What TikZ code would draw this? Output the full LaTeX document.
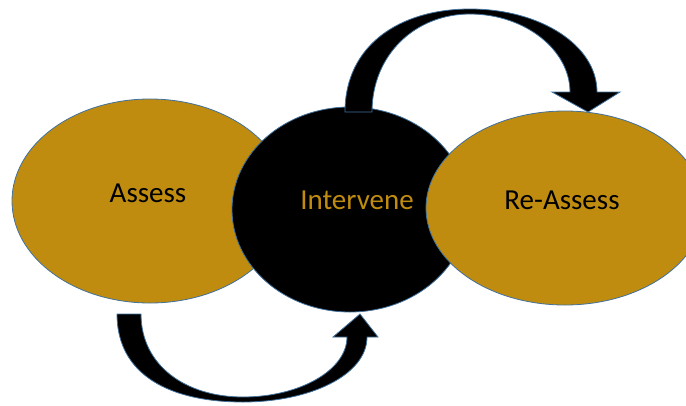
\documentclass[tikz,border=0pt]{standalone}
\usepackage{fontspec}
\setmainfont{Carlito}
\usetikzlibrary{shapes.geometric}
\definecolor{gold}{RGB}{191,140,16}
\definecolor{rim}{RGB}{65,113,156}

\begin{document}
\begin{tikzpicture}[x=1pt,y=-1pt,
                    stage/.style={ellipse,draw=rim,line width=0.8pt,inner sep=0pt},
                    word/.style={font=\fontsize{29}{29}\selectfont},
                    bend arrow/.style={fill=black,draw=rim,line width=0.8pt,line join=miter}]
  \useasboundingbox (0,0) rectangle (686,405);
  \node[stage,fill=gold,minimum width=276pt,minimum height=204pt] (assess) at (150,201) {};
  \node[stage,fill=black,minimum width=236pt,minimum height=205pt] (intervene) at (350,209.5) {};
  \node[stage,fill=gold,minimum width=278pt,minimum height=194pt] (reassess) at (565,208) {};
  \node[word] (assess text) at (148,193) {Assess};
  \node[word,text=gold] (intervene text) at (357,200) {Intervene};
  \node[word] (reassess text) at (562,200) {Re-Assess};
  % curved arrow over the top
  \coordinate (top tail) at (358.5,112);
  \coordinate (top tip) at (588,112);
  \draw[bend arrow] (345,112) .. controls (345,45) and (400,9) .. (470,9)
        .. controls (540,9) and (597,45) .. (597,92) -- (620,92) -- (top tip) -- (552,92) -- (570,92)
        .. controls (570,50) and (525,14) .. (470,14)
        .. controls (415,14) and (372,55) .. (372,112) -- cycle;
  % curved arrow underneath
  \coordinate (low tail) at (129,314);
  \coordinate (low tip) at (360,314);
  \draw[bend arrow] (117,314) .. controls (117,375) and (170,402) .. (243,402)
        .. controls (310,402) and (367,375) .. (367,337) -- (378,337) -- (low tip) -- (333,337) -- (347,337)
        .. controls (347,370) and (300,397) .. (243,397)
        .. controls (185,397) and (141,365) .. (141,314) -- cycle;
\end{tikzpicture}
\end{document}
